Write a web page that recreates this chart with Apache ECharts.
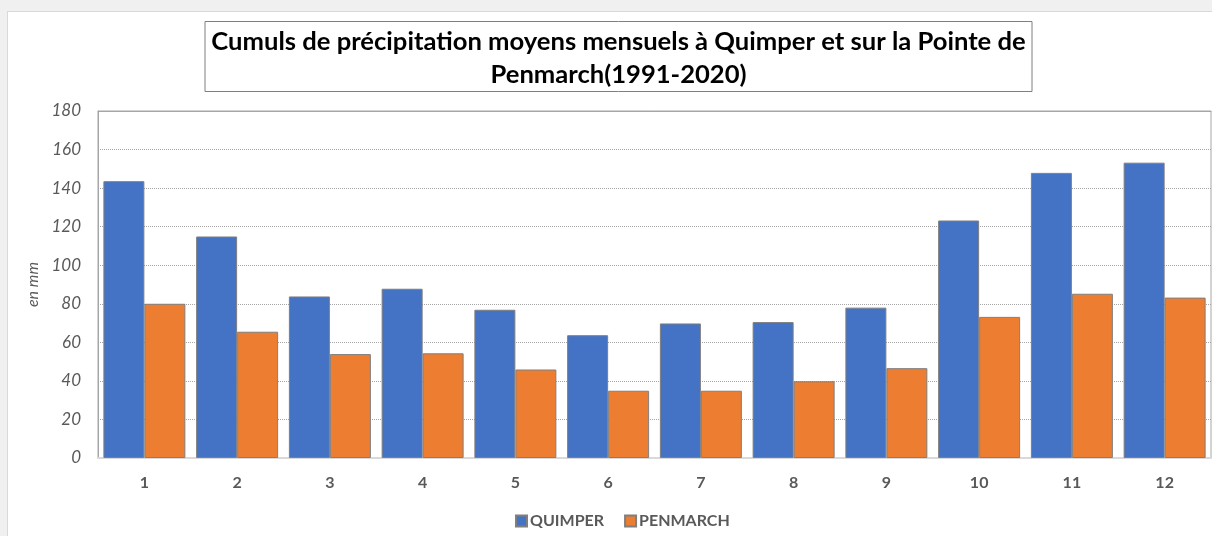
<!DOCTYPE html>
<html>
<head>
<meta charset="utf-8">
<script src="https://cdn.jsdelivr.net/npm/echarts@6/dist/echarts.min.js"></script>
<style>
  html, body { margin: 0; padding: 0; background: #f0f0f0; }
  #sheet { position: absolute; left: 7px; top: 11px; width: 1205px; height: 525px; background: #fff; border-top: 1px solid #d9d9d9; border-left: 1px solid #d9d9d9; box-sizing: border-box; }
  #chart { position: absolute; left: 0; top: 0; width: 1212px; height: 536px; }
</style>
</head>
<body>
<div id="sheet"></div>
<div id="chart"></div>
<script>
const months = ['1', '2', '3', '4', '5', '6', '7', '8', '9', '10', '11', '12']
const quimper = [143.6, 114.9, 83.8, 87.8, 76.9, 63.7, 69.8, 70.5, 78.0, 123.2, 147.9, 153.2]
const penmarch = [80.0, 65.5, 53.9, 54.3, 45.9, 34.9, 34.9, 39.8, 46.6, 73.2, 85.2, 83.2]
const yTicks = [0, 20, 40, 60, 80, 100, 120, 140, 160, 180]

const chart = echarts.init(document.getElementById('chart'), null, { renderer: 'canvas' })

const font = 'Lato, "Open Sans", sans-serif'
const gray = '#595959'

const option = {
  animation: false,
  title: {
    text: 'Cumuls de précipitation moyens mensuels à Quimper et sur la Pointe de\nPenmarch(1991-2020)',
    left: 613,
    top: 21,
    textAlign: 'center',
    padding: [4, 5.5, 1, 5.5],
    borderColor: '#7f7f7f',
    borderWidth: 1,
    textStyle: {
      fontFamily: font,
      fontWeight: 'bold',
      fontSize: 25.6,
      lineHeight: 33,
      color: '#000',
      width: 816
    }
  },
  legend: {
    data: ['QUIMPER', 'PENMARCH'],
    left: 510,
    top: 508,
    itemWidth: 11,
    itemHeight: 11,
    itemGap: 20,
    icon: 'rect',
    textStyle: { fontFamily: font, fontWeight: 'bold', fontSize: 16, color: gray, padding: [0, 0, 0, -2] }
  },
  grid: {
    left: 98,
    top: 111,
    right: 1,
    bottom: 78,
    show: true,
    borderColor: '#a6a6a6',
    borderWidth: 1
  },
  xAxis: [
    {
      type: 'category',
      data: months,
      axisTick: { show: false },
      axisLine: { lineStyle: { color: '#d9d9d9', width: 2 } },
      axisLabel: { margin: 17, fontFamily: font, fontWeight: 'bold', fontSize: 16, color: gray }
    },
    {
      // top border of the plot, drawn over the dotted 180 line
      type: 'category',
      data: months,
      position: 'top',
      z: 5,
      axisTick: { show: false },
      axisLabel: { show: false },
      axisLine: { lineStyle: { color: '#a6a6a6', width: 1 } }
    }
  ],
  yAxis: {
    type: 'value',
    min: 0,
    max: 180,
    interval: 20,
    name: 'en mm',
    nameLocation: 'middle',
    nameGap: 46,
    nameTextStyle: { fontFamily: font, fontStyle: 'italic', fontSize: 16, color: gray },
    axisLine: { show: true, lineStyle: { color: '#a6a6a6' } },
    axisTick: { show: false },
    axisLabel: {
      margin: 17,
      fontFamily: font,
      fontStyle: 'italic',
      fontSize: 17,
      color: gray,
      formatter: v => (yTicks.includes(v) ? String(v) : '')
    },
    splitLine: { lineStyle: { color: '#a6a6a6', type: 'dotted' } }
  },
  series: [
    {
      name: 'QUIMPER',
      type: 'bar',
      data: quimper,
      barGap: '0%',
      barCategoryGap: '11.6%',
      itemStyle: { color: '#4472c4', borderColor: '#7f7f7f', borderWidth: 1 }
    },
    {
      name: 'PENMARCH',
      type: 'bar',
      data: penmarch,
      itemStyle: { color: '#ed7d31', borderColor: '#7f7f7f', borderWidth: 1 }
    }
  ]
}

chart.setOption(option)
</script>
</body>
</html>
